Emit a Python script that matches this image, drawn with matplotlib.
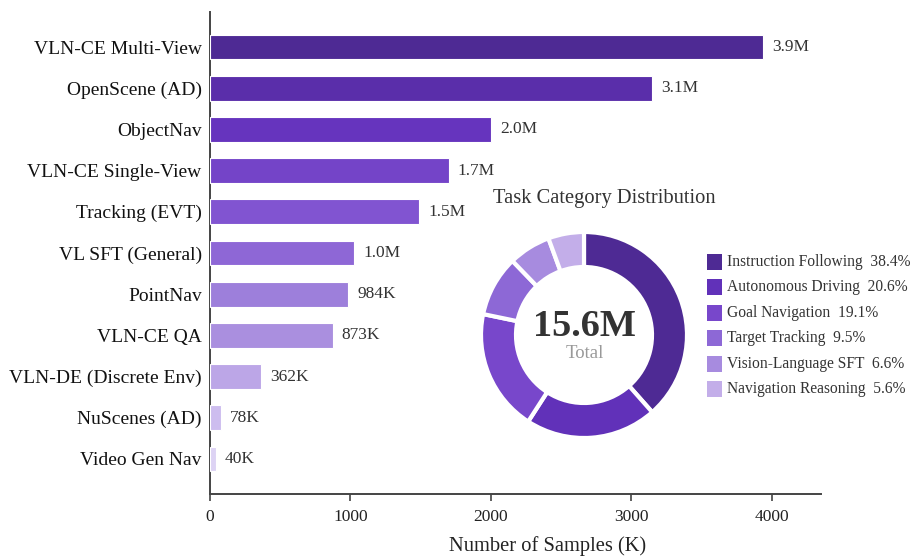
import matplotlib
matplotlib.use("Agg")
import matplotlib.pyplot as plt
from matplotlib.patches import Rectangle

plt.rcParams['font.family'] = ['Liberation Serif', 'DejaVu Serif']

categories = ["VLN-CE Multi-View", "OpenScene (AD)", "ObjectNav", "VLN-CE Single-View",
              "Tracking (EVT)", "VL SFT (General)", "PointNav", "VLN-CE QA",
              "VLN-DE (Discrete Env)", "NuScenes (AD)", "Video Gen Nav"]
values = [3936, 3146, 2000, 1701, 1488, 1025, 984, 873, 362, 78, 40]
value_labels = ["3.9M", "3.1M", "2.0M", "1.7M", "1.5M", "1.0M", "984K", "873K", "362K", "78K", "40K"]
bar_colors = ["#4e2a94", "#5a2eaa", "#6634be", "#7444c8", "#8154d1", "#8e67d6",
              "#9d7fdb", "#aa8fdf", "#bca6e7", "#cdbdef", "#ddd3f4"]

pie_labels = ["Instruction Following", "Autonomous Driving", "Goal Navigation",
              "Target Tracking", "Vision-Language SFT", "Navigation Reasoning"]
pie_values = [38.4, 20.6, 19.1, 9.5, 6.6, 5.6]
pie_colors = ["#4e2a94", "#6131b9", "#7847cb", "#8d68d6", "#a78bdf", "#c3aee9"]
total_label = "15.6M"
xticks = [0, 1000, 2000, 3000, 4000]

W, H = 911, 557
fig = plt.figure(figsize=(W/100, H/100), dpi=100)
ax = fig.add_axes([210/W, 1-494/H, (821-210)/W, (494-12)/H])

y = list(range(len(categories)))
ax.barh(y, values, height=0.6, color=bar_colors, edgecolor="white", linewidth=0.8, zorder=3)
for yi, v, lab in zip(y, values, value_labels):
    ax.text(v + 64, yi, lab, va="center", ha="left", fontsize=12.5, color="#333333")
ax.set_yticks(y)
ax.set_yticklabels(categories, fontsize=14, color="#111111")
ax.set_ylim(len(categories) - 1 + 0.85, -0.85)
ax.set_xlim(0, 4350)
ax.set_xticks(xticks)
ax.set_xticklabels([str(t) for t in xticks], fontsize=12.5, color="#222222")
for s in ["top", "right"]:
    ax.spines[s].set_visible(False)
for s in ["left", "bottom"]:
    ax.spines[s].set_color("#444444")
    ax.spines[s].set_linewidth(1.4)
    ax.spines[s].set_zorder(1)
ax.tick_params(axis="y", length=0, pad=6)
ax.tick_params(axis="x", length=5, width=1.2, color="#444444", pad=6)
fig.text(548/W, 1-546/H, "Number of Samples (K)", ha="center", va="center",
         fontsize=14.8, color="#222222")

# donut
cx, cy, box = 584, 335, 230
ax2 = fig.add_axes([(cx-box/2)/W, 1-(cy+box/2)/H, box/W, box/H])
R = 103/(box/2)
ax2.pie(pie_values, colors=pie_colors, startangle=90, counterclock=False, radius=R,
        wedgeprops=dict(width=R*35/103, edgecolor="white", linewidth=3))
ax2.set_xlim(-1, 1)
ax2.set_ylim(-1, 1)
ax2.set_aspect("equal")
ax2.axis("off")
fig.text(585/W, 1-326/H, total_label, ha="center", va="center", fontsize=27.5,
         fontweight="bold", color="#333333")
fig.text(585/W, 1-354/H, "Total", ha="center", va="center", fontsize=13.5, color="#999999")
fig.text(604/W, 1-199/H, "Task Category Distribution", ha="center", va="center",
         fontsize=14.8, color="#333333")

# legend
for i, (lab, v, c) in enumerate(zip(pie_labels, pie_values, pie_colors)):
    yc = 262 + i*25.4
    fig.patches.append(Rectangle((707/W, 1-(yc+8)/H), 15/W, 16/H, transform=fig.transFigure,
                                 facecolor=c, edgecolor="none"))
    fig.text(727/W, 1-yc/H, f"{lab}  {v}%", ha="left", va="center", fontsize=11.2, color="#333333")

fig.savefig("out.png", dpi=100)
